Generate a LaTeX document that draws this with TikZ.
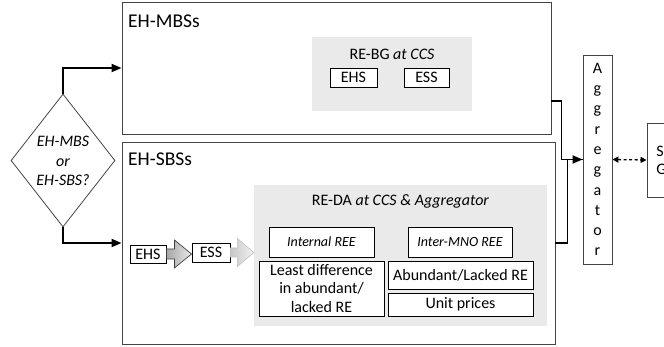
\documentclass[tikz,border=0pt]{standalone}
\usepackage{fontspec}
\setmainfont{Carlito}
\usetikzlibrary{shapes.geometric,arrows.meta,calc}

\definecolor{panel}{HTML}{EAEAEA}
\definecolor{frame}{HTML}{444444}

\tikzset{
  region/.style={draw=frame, line width=0.9pt, inner sep=0pt},
  panelbox/.style={fill=panel, draw=none, inner sep=0pt},
  item/.style={draw=black, line width=0.8pt, fill=white, inner sep=0pt,
    font=\fontsize{16}{18}\selectfont, align=center},
  itemit/.style={item, font=\fontsize{14}{17}\selectfont\itshape},
  title/.style={inner sep=0pt, anchor=west, font=\fontsize{19.5}{22}\selectfont},
  subtitle/.style={inner sep=0pt, font=\fontsize{16}{19}\selectfont},
  flow/.style={line width=1.8pt, -{Triangle[length=10pt,width=8pt]}},
  link/.style={line width=1.8pt},
  duplex/.style={line width=1.3pt, dash pattern=on 3pt off 2.5pt,
    {Triangle[length=6pt,width=6pt]}-{Triangle[length=6pt,width=6pt]}},
  shaftA/.style={draw=black!75, line width=0.7pt, shading=axis,
    left color=black!35, right color=black!8},
  shaftB/.style={draw=black!25, line width=0.6pt, shading=axis,
    left color=black!22, right color=black!5}
}

\begin{document}
\begin{tikzpicture}[x=1pt, y=-1pt]
\clip (0,0) rectangle (664,347);

% decision
\node[draw=frame, line width=0.8pt, diamond, minimum width=104pt, minimum height=133pt,
      inner sep=0pt] (dec) at (63,160.5) {};
\node[align=center, font=\fontsize{16}{19.5}\selectfont\itshape] at (63,161)
  {EH-MBS\\or\\EH-SBS?};

% the two base-station regions
\node[region, minimum width=429pt, minimum height=132pt] (mbs) at (336.5,68) {};
\node[title] at (128,21) {EH-MBSs};
\node[region, minimum width=433pt, minimum height=202pt] (sbs) at (338.5,243) {};
\node[title] at (128,159) {EH-SBSs};

% RE-BG panel
\node[panelbox, minimum width=160pt, minimum height=74pt] (rebg) at (392,74) {};
\node[subtitle] at (392,54) {RE-BG \textit{at CCS}};
\node[item, minimum width=47pt, minimum height=19pt] (ehs1) at (353.5,77.5) {EHS};
\node[item, minimum width=45pt, minimum height=19pt] (ess1) at (426.5,77.5) {ESS};

% RE-DA panel
\node[panelbox, minimum width=293pt, minimum height=141pt] (reda) at (400.5,255.5) {};
\node[subtitle] at (400.5,201) {RE-DA \textit{at CCS \& Aggregator}};
\node[itemit, minimum width=105pt, minimum height=30pt] (intree) at (321.5,242) {Internal REE};
\node[item, minimum width=125pt, minimum height=55pt, font=\fontsize{16}{18.5}\selectfont]
  (least) at (321.5,288.5) {Least difference\\in abundant/\\lacked RE};
\node[itemit, minimum width=104pt, minimum height=30pt] (interree) at (460,242) {Inter-MNO REE};
\node[item, minimum width=145pt, minimum height=28pt] (abund) at (460.5,275) {Abundant/Lacked RE};
\node[item, minimum width=145pt, minimum height=23pt] (unit) at (460.5,304.5) {Unit prices};

% storage chain of the small base stations
\node[item, minimum width=36pt, minimum height=18pt] (ehs2) at (148,254) {EHS};
\node[item, minimum width=38pt, minimum height=19pt] (ess2) at (211,252.5) {ESS};

\path[shaftA]
  ($(ehs2.east)+(0,-5)$) -- ($(ehs2.east)+(8,-5)$) -- ($(ehs2.east)+(8,-14)$)
  -- (ess2.west |- ehs2.east)
  -- ($(ehs2.east)+(8,14)$) -- ($(ehs2.east)+(8,5)$) -- ($(ehs2.east)+(0,5)$) -- cycle;
\path[shaftB]
  ($(ess2.east)+(0,-4.5)$) -- ($(ess2.east)+(7,-4.5)$) -- ($(ess2.east)+(7,-14)$)
  -- (reda.west |- ess2.east)
  -- ($(ess2.east)+(7,14)$) -- ($(ess2.east)+(7,4.5)$) -- ($(ess2.east)+(0,4.5)$) -- cycle;

% aggregator and grid
\node[region, minimum width=29pt, minimum height=209pt, align=center,
      font=\fontsize{16}{20.3}\selectfont] (agg) at (597.5,159.5)
  {A\\g\\g\\r\\e\\g\\a\\t\\o\\r};
\node[region, minimum width=70pt, minimum height=74pt] (grid) at (682,160) {};
\node[anchor=west, align=left, inner sep=0pt, font=\fontsize{16}{18}\selectfont]
  at ($(grid.west)+(9.5,0)$) {Smart\\Grid};

% decision branches
\draw[flow] (dec.north) |- (mbs.west);
\draw[flow] (dec.south) |- (sbs.west);

% feeds into the aggregator
\draw[link] ($(mbs.east)+(0,33)$) -- ++(10,0) |- (agg.west);
\draw[flow] (sbs.east) -- ++(12,0) |- (agg.west);

% aggregator <-> grid exchange
\draw[duplex] (agg.east) -- (grid.west);
\end{tikzpicture}
\end{document}
